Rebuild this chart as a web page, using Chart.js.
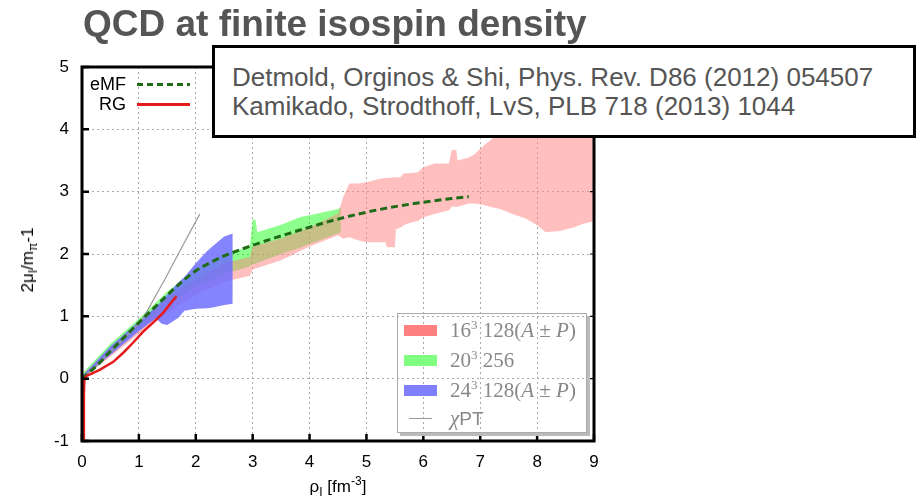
<!DOCTYPE html>
<html>
<head>
<meta charset="utf-8">
<script src="https://cdn.jsdelivr.net/npm/chart.js"></script>
<style>
  body { margin: 0; background: #fff; }
  #wrap { position: relative; width: 918px; height: 500px; overflow: hidden; font-family: "Liberation Sans", Arial, sans-serif; }
  #chart { position: absolute; left: 0; top: 0; }
  #title { position: absolute; left: 83px; top: 5px; font: bold 37px/37px "Liberation Sans", Arial, sans-serif; color: #555; white-space: nowrap; }
  #refs { position: absolute; left: 212px; top: 45px; width: 704px; height: 93px; box-sizing: border-box; border: 3px solid #000; background: #fff; }
  .ref { position: absolute; left: 17px; font: 26px/26px "Liberation Sans", Arial, sans-serif; color: #555; white-space: nowrap; }
  #ylab { position: absolute; left: 28px; top: 260px; transform: translate(-50%, -50%) rotate(-90deg); font-size: 17px; white-space: nowrap; }
  #xlab { position: absolute; left: 338px; top: 487px; transform: translate(-50%, -50%); font-size: 17px; white-space: nowrap; }
  sub, sup { font-size: 12px; line-height: 0; }
  .lt { position: absolute; font-size: 18px; line-height: 20px; white-space: nowrap; }
  #legBR { position: absolute; left: 397px; top: 313px; width: 190px; height: 120px; box-sizing: border-box; border: 1.5px solid #aaa; box-shadow: 3px 3px 0 #bbb; }
  .sw { position: absolute; width: 33px; height: 11px; }
  .mt { position: absolute; left: 52px; font: 21px/24px "Liberation Serif", "DejaVu Serif", serif; color: #888; white-space: nowrap; }
  .mt sup { font-size: 13px; }
</style>
</head>
<body>
<div id="wrap">
  <canvas id="chart" width="918" height="500"></canvas>
  <div id="title">QCD at finite isospin density</div>
  <div id="refs">
    <div class="ref" style="top:16px">Detmold, Orginos &amp; Shi, Phys. Rev. D86 (2012) 054507</div>
    <div class="ref" style="top:45px">Kamikado, Strodthoff, LvS, PLB 718 (2013) 1044</div>
  </div>
  <div id="ylab">2μ<sub>I</sub>/m<sub>π</sub>-1</div>
  <div id="xlab">ρ<sub>I</sub> [fm<sup>-3</sup>]</div>
  <div id="legTL"></div>
  <div id="legBR"></div>
</div>
<script>
// axis ticks
const xTicks = [0, 1, 2, 3, 4, 5, 6, 7, 8, 9];
const yTicks = [-1, 0, 1, 2, 3, 4, 5];

// 16^3 128 (A+-P) band
const pinkX  = [0, 0.5, 1, 1.5, 2, 2.5, 2.8, 2.95, 3.0, 3.5, 4.0, 4.5, 4.59, 4.7, 4.85, 5.0, 5.2, 5.33, 5.36, 5.5, 5.52, 5.6, 5.65, 5.8, 5.9, 6.0, 6.2, 6.45, 6.5, 6.58, 6.6, 6.8, 6.9, 7.0, 7.1, 7.2, 7.35, 7.6, 7.8, 8.0, 8.15, 8.4, 8.65, 8.8, 9.0];
const pinkLo = [0, 0.35, 0.72, 1.05, 1.35, 1.55, 1.62, 1.65, 1.75, 1.9, 2.12, 2.3, 2.25, 2.27, 2.22, 2.19, 2.19, 2.19, 2.11, 2.11, 2.4, 2.42, 2.46, 2.51, 2.53, 2.59, 2.64, 2.7, 2.76, 2.76, 2.76, 2.81, 2.81, 2.8, 2.78, 2.75, 2.72, 2.63, 2.57, 2.46, 2.35, 2.37, 2.43, 2.48, 2.53];
const pinkHi = [0.05, 0.5, 0.9, 1.3, 1.6, 1.85, 1.92, 1.95, 2.12, 2.25, 2.43, 2.65, 2.91, 3.13, 3.13, 3.15, 3.2, 3.22, 3.22, 3.23, 3.23, 3.23, 3.29, 3.3, 3.31, 3.39, 3.45, 3.45, 3.67, 3.67, 3.5, 3.55, 3.6, 3.69, 3.77, 3.84, 4.0, 4.4, 4.8, 5, 5, 5, 5, 5, 5];

// 20^3 256 band
const greenX  = [0, 0.5, 1, 1.5, 2, 2.5, 2.95, 3.0, 3.05, 3.08, 3.5, 3.83, 4.0, 4.5, 4.55];
const greenLo = [0, 0.4, 0.8, 1.18, 1.48, 1.68, 1.8, 1.84, 1.84, 1.86, 2.0, 2.1, 2.16, 2.33, 2.35];
const greenHi = [0.08, 0.56, 0.96, 1.4, 1.75, 2.0, 2.12, 2.55, 2.55, 2.35, 2.47, 2.59, 2.62, 2.72, 2.75];

// 24^3 128 (A+-P) band
const blueX  = [0, 0.5, 1, 1.3, 1.4, 1.5, 1.6, 1.7, 1.8, 2.0, 2.2, 2.3, 2.5, 2.65];
const blueLo = [0, 0.38, 0.76, 0.97, 0.88, 0.86, 0.92, 0.98, 1.09, 1.12, 1.13, 1.14, 1.18, 1.2];
const blueHi = [0.04, 0.52, 0.92, 1.15, 1.25, 1.35, 1.45, 1.55, 1.63, 1.85, 2.05, 2.13, 2.28, 2.33];

// curves
const emfX = [0, 0.1, 0.25, 0.5, 0.75, 1, 1.25, 1.5, 1.75, 2, 2.25, 2.5, 3, 3.5, 4, 4.5, 5, 5.5, 6, 6.5, 6.8];
const emfY = [0, 0.08, 0.2, 0.44, 0.67, 0.9, 1.12, 1.34, 1.55, 1.73, 1.86, 1.97, 2.14, 2.29, 2.43, 2.56, 2.67, 2.76, 2.83, 2.89, 2.92];
const rgX  = [0.03, 0.032, 0.035, 0.04, 0.06, 0.09, 0.17, 0.31, 0.55, 0.73, 0.9, 1.08, 1.25, 1.43, 1.55, 1.66];
const rgY  = [-1, -0.6, -0.25, -0.05, 0.02, 0.05, 0.08, 0.14, 0.27, 0.42, 0.58, 0.76, 0.9, 1.06, 1.2, 1.32];
const chptX = [0, 0.5, 0.8, 1.08, 1.46, 1.75, 2.07];
const chptY = [0, 0.42, 0.7, 0.98, 1.6, 2.1, 2.64];

const bandLabels = ['16<sup>3</sup> 128(<i>A</i> ± <i>P</i>)', '20<sup>3</sup> 256', '24<sup>3</sup> 128(<i>A</i> ± <i>P</i>)'];
const lineLabels = ['eMF', 'RG'];

const pinkC = 'rgba(255,128,128,0.5)';
const greenC = 'rgba(0,255,0,0.45)';
const blueC = 'rgba(110,110,255,0.85)';
const swatchColors = ['#ff8080', '#80ff80', '#8080ff'];
const emfC = '#1f6b17';
const rgC = '#e41b1b';
const chptC = '#999';

function pts(xs, ys) {
  return xs.map((x, i) => ({ x: x, y: ys[i] }));
}

function edge(xs, ys, order) {
  return { data: pts(xs, ys), borderColor: 'rgba(0,0,0,0)', borderWidth: 0, pointRadius: 0, fill: false, order: order };
}

function band(xs, ys, order, lowIdx, color) {
  const d = edge(xs, ys, order);
  d.fill = { target: lowIdx };
  d.backgroundColor = color;
  return d;
}

const datasets = [
  edge(greenX, greenLo, 6),                 // 0
  band(greenX, greenHi, 6, 0, greenC),      // 1
  edge(pinkX, pinkLo, 5),                   // 2
  band(pinkX, pinkHi, 5, 2, pinkC),         // 3
  edge(blueX, blueLo, 4),                   // 4
  band(blueX, blueHi, 4, 4, blueC),         // 5
  { data: pts(chptX, chptY), borderColor: chptC, borderWidth: 1.2, pointRadius: 0, fill: false, order: 3 },
  { data: pts(emfX, emfY), borderColor: emfC, borderWidth: 3, borderDash: [7, 4], pointRadius: 0, fill: false,
    cubicInterpolationMode: 'monotone', order: 2 },
  { data: pts(rgX, rgY), borderColor: rgC, borderWidth: 2.5, pointRadius: 0, fill: false, order: 1 }
];

// frame with inward ticks, like gnuplot
const framePlugin = {
  id: 'frame',
  afterDraw(chart) {
    const { ctx, chartArea: a, scales } = chart;
    ctx.save();
    ctx.strokeStyle = '#000';
    ctx.lineWidth = 2.5;
    ctx.beginPath();
    xTicks.forEach(v => {
      const px = scales.x.getPixelForValue(v);
      ctx.moveTo(px, a.bottom);
      ctx.lineTo(px, a.bottom - 7);
    });
    yTicks.forEach(v => {
      const py = scales.y.getPixelForValue(v);
      ctx.moveTo(a.left, py);
      ctx.lineTo(a.left + 7, py);
    });
    ctx.stroke();
    ctx.lineWidth = 1.2;
    ctx.beginPath();
    yTicks.forEach(v => {
      const py = scales.y.getPixelForValue(v);
      ctx.moveTo(a.right, py);
      ctx.lineTo(a.right - 4, py);
    });
    ctx.stroke();
    ctx.lineWidth = 3;
    ctx.strokeRect(a.left, a.top, a.right - a.left, a.bottom - a.top);
    ctx.restore();
  }
};

const tickFont = { family: '"Liberation Sans", Arial, sans-serif', size: 17 };

new Chart(document.getElementById('chart'), {
  type: 'line',
  data: { datasets: datasets },
  options: {
    responsive: false,
    animation: false,
    devicePixelRatio: 1,
    layout: { padding: { left: 0, top: 67, right: 324, bottom: 0 } },
    plugins: { legend: { display: false }, tooltip: { enabled: false } },
    scales: {
      x: {
        type: 'linear', min: 0, max: 9,
        afterBuildTicks: s => { s.ticks = xTicks.map(v => ({ value: v })); },
        afterFit: s => { s.height = 59; },
        ticks: { font: tickFont, color: '#000', padding: 11, maxRotation: 0 },
        grid: { color: '#aaa', lineWidth: 1, drawTicks: false },
        border: { display: false, dash: [2, 3] }
      },
      y: {
        type: 'linear', min: -1, max: 5,
        afterBuildTicks: s => { s.ticks = yTicks.map(v => ({ value: v })); },
        afterFit: s => { s.width = 82; },
        ticks: { font: tickFont, color: '#000', padding: 13 },
        grid: { color: '#aaa', lineWidth: 1, drawTicks: false },
        border: { display: false, dash: [2, 3] }
      }
    }
  },
  plugins: [framePlugin]
});

// top-left legend (lines)
const legTL = document.getElementById('legTL');
const lineStyles = [
  'background: repeating-linear-gradient(to right, ' + emfC + ' 0 6px, transparent 6px 10px); height: 3px;',
  'background: ' + rgC + '; height: 3px;'
];
lineLabels.forEach((lab, i) => {
  const cy = 84 + i * 20;
  legTL.insertAdjacentHTML('beforeend',
    '<div class="lt" style="right:' + (918 - 126) + 'px; top:' + (cy - 10) + 'px">' + lab + '</div>' +
    '<div style="position:absolute; left:137px; width:53px; top:' + (cy - 1) + 'px; ' + lineStyles[i] + '"></div>');
});

// bottom-right legend (bands + chiPT)
const legBR = document.getElementById('legBR');
bandLabels.forEach((lab, i) => {
  const cy = 17 + i * 30;
  legBR.insertAdjacentHTML('beforeend',
    '<div class="sw" style="left:6px; top:' + (cy - 6) + 'px; background:' + swatchColors[i] + '"></div>' +
    '<div class="mt" style="top:' + (cy - 13) + 'px">' + lab + '</div>');
});
legBR.insertAdjacentHTML('beforeend',
  '<div style="position:absolute; left:11px; width:23px; top:104px; height:1px; background:' + chptC + '"></div>' +
  '<div class="mt" style="top:92px"><i>χ</i><span style="font-family:\'Liberation Sans\',Arial,sans-serif; font-size:19px">PT</span></div>');
</script>
</body>
</html>
